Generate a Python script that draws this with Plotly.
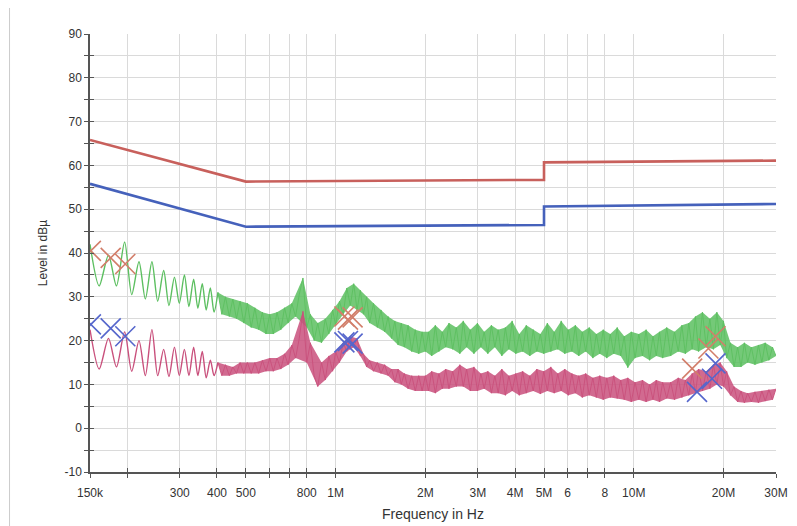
import math
import plotly.graph_objects as go

# ---------------- data ----------------
# scan frequencies in kHz (shared by both detectors)
FREQ_KHZ = [
    150, 161, 173, 184, 196, 207, 219, 230, 242, 253,
    265, 276, 288, 299, 311, 322, 334, 345, 357, 368,
    380, 391, 403, 415, 427, 440, 452, 465, 478, 492,
    506, 521, 536, 552, 568, 584, 601, 618, 636, 655,
    674, 693, 713, 734, 755, 777, 800, 823, 847, 871,
    897, 923, 949, 977, 1000, 1030, 1060, 1090, 1120, 1150,
    1180, 1210, 1240, 1270, 1300, 1340, 1380, 1420, 1460, 1500,
    1540, 1580, 1620, 1660, 1700, 1750, 1800, 1850, 1900, 1950,
    2000, 2050, 2100, 2160, 2220, 2280, 2340, 2400, 2470, 2540,
    2610, 2680, 2750, 2830, 2910, 2990, 3070, 3150, 3240, 3330,
    3420, 3510, 3610, 3710, 3810, 3910, 4020, 4130, 4240, 4360,
    4480, 4600, 4730, 4860, 4990, 5130, 5270, 5410, 5560, 5710,
    5870, 6030, 6200, 6370, 6540, 6720, 6900, 7090, 7290, 7490,
    7690, 7900, 8120, 8340, 8570, 8800, 9040, 9290, 9550, 9810,
    10100, 10400, 10700, 11000, 11300, 11600, 11900, 12200, 12500, 12900,
    13300, 13700, 14100, 14500, 14900, 15300, 15700, 16100, 16500, 17000,
    17500, 18000, 18500, 19000, 19500, 20000, 20500, 21100, 21700, 22300,
    22900, 23500, 24100, 24800, 25500, 26200, 26900, 27600, 28400, 29200,
    30000,
]

# peak detector scan (green), dBµV
PEAK_DB = [
    42.0, 32.5, 39.5, 32.5, 42.5, 30.5, 38.0, 29.5, 38.0, 29.0,
    36.0, 28.0, 34.5, 28.5, 35.0, 27.8, 34.0, 27.4, 33.0, 27.0,
    32.0, 26.5, 31.0, 26.0, 30.0, 25.5, 29.5, 25.0, 29.0, 24.0,
    28.5, 23.0, 27.5, 22.5, 26.5, 21.5, 26.0, 21.5, 26.5, 22.5,
    27.5, 24.0, 28.5, 25.5, 30.5, 34.3, 23.0, 26.0, 20.0, 24.0,
    19.5, 25.0, 21.5, 27.0, 23.5, 29.0, 26.0, 32.0, 28.0, 33.0,
    27.0, 31.5, 26.0, 30.0, 24.0, 28.5, 23.0, 27.0, 22.0, 25.5,
    20.5, 24.5, 19.0, 24.0, 18.5, 23.5, 17.5, 22.5, 17.0, 22.0,
    17.5, 22.0, 16.5, 23.5, 17.5, 22.0, 18.5, 24.0, 18.0, 23.0,
    17.0, 24.5, 18.5, 22.5, 17.0, 24.0, 18.5, 22.0, 17.0, 23.5,
    18.5, 22.5, 16.5, 23.0, 18.0, 24.5, 17.0, 21.5, 17.5, 23.5,
    16.5, 22.5, 17.5, 21.5, 17.0, 24.0, 17.5, 22.0, 18.0, 24.5,
    17.0, 22.5, 17.5, 23.5, 16.5, 22.0, 17.5, 23.0, 16.0, 21.5,
    17.0, 22.5, 16.0, 21.5, 17.0, 23.0, 16.5, 21.0, 13.8, 22.0,
    16.0, 21.5, 16.5, 22.5, 15.5, 21.0, 16.5, 22.0, 16.0, 23.0,
    16.5, 22.0, 17.5, 23.5, 17.0, 24.0, 18.0, 25.5, 17.5, 26.5,
    18.5, 25.0, 18.0, 26.5, 19.0, 24.5, 16.0, 19.5, 14.0, 18.5,
    14.0, 19.5, 15.0, 18.5, 14.5, 19.0, 15.0, 19.5, 15.5, 18.5,
    16.5,
]

# average detector scan (pink), dBµV
AVG_DB = [
    22.5, 13.5, 20.5, 14.0, 22.0, 13.0, 20.0, 12.0, 22.5, 12.0,
    18.0, 11.8, 18.5, 12.0, 18.0, 12.0, 18.5, 12.0, 17.5, 11.5,
    15.5, 12.0, 15.0, 12.0, 14.5, 12.0, 14.0, 12.5, 15.0, 12.5,
    15.0, 12.5, 15.0, 12.5, 15.5, 13.0, 16.0, 13.0, 16.0, 13.5,
    17.0, 14.5, 19.0, 16.0, 20.5, 26.7, 15.0, 19.5, 12.0, 9.5,
    15.0, 11.0, 16.5, 13.0, 17.5, 15.0, 19.5, 17.5, 21.0, 18.5,
    20.5, 16.5, 17.0, 14.0, 15.5, 13.0, 15.0, 12.5, 14.5, 12.0,
    13.5, 10.5, 13.5, 10.0, 12.5, 9.0, 12.0, 8.5, 12.0, 8.5,
    12.0, 8.5, 13.0, 8.0, 12.5, 9.0, 13.5, 9.0, 13.0, 9.5,
    14.5, 9.5, 13.5, 8.5, 14.0, 8.5, 12.5, 9.0, 13.0, 8.0,
    12.0, 8.0, 13.5, 7.5, 12.0, 8.5, 12.5, 7.5, 13.0, 8.0,
    12.0, 8.5, 13.5, 7.8, 13.0, 8.5, 14.0, 8.0, 12.5, 8.5,
    13.5, 7.5, 12.5, 8.0, 12.0, 7.0, 12.5, 7.5, 11.5, 7.0,
    12.0, 6.5, 11.5, 7.0, 12.0, 6.8, 11.0, 6.5, 11.5, 6.0,
    10.5, 6.5, 11.0, 6.0, 10.0, 6.5, 11.0, 6.0, 10.5, 6.8,
    10.5, 6.5, 11.5, 7.0, 11.0, 7.5, 12.5, 8.0, 13.5, 8.5,
    13.0, 9.0, 14.5, 10.0, 15.0, 9.5, 13.0, 7.5, 9.5, 6.0,
    8.5, 5.8, 8.0, 6.0, 8.3, 5.8, 8.5, 6.2, 8.8, 6.5,
    9.0,
]

# limit lines
LIMIT_FREQ = [150e3, 500e3, 5e6, 5e6, 30e6]
QP_LIMIT = [65.8, 56.3, 56.7, 60.7, 61.1]
AV_LIMIT = [55.8, 46.0, 46.4, 50.6, 51.2]

# final measurement markers
QP_MARK_FREQ = [151e3, 176e3, 197e3, 1.07e6, 1.10e6, 1.14e6, 15.7e6, 17.8e6, 18.8e6]
QP_MARK_DB = [40.5, 38.9, 37.5, 25.5, 24.8, 25.3, 13.6, 18.2, 21.0]
AV_MARK_FREQ = [151e3, 176e3, 197e3, 1.07e6, 1.10e6, 1.14e6, 16.3e6, 18.3e6, 18.8e6]
AV_MARK_DB = [23.7, 22.8, 21.0, 19.6, 19.9, 19.3, 8.3, 11.3, 14.8]

# axis ticks
X_TICKS = [150e3, 200e3, 300e3, 400e3, 500e3, 600e3, 700e3, 800e3, 1e6,
           2e6, 3e6, 4e6, 5e6, 6e6, 7e6, 8e6, 10e6, 20e6, 30e6]
X_TEXT = ["150k", "", "300", "400", "500", "", "", "800", "1M",
          "2M", "3M", "4M", "5M", "6", "", "8", "10M", "20M", "30M"]
Y_TICKS = [-10, -5, 0, 5, 10, 15, 20, 25, 30, 35, 40, 45, 50, 55, 60, 65, 70, 75, 80, 85, 90]
Y_TEXT = [str(v) if v % 10 == 0 else "" for v in Y_TICKS]

DENSE_START = 22  # from ~400 kHz the scan is a dense noise band

# ---------------- styling ----------------
FONT = "Liberation Sans, Arial, sans-serif"
GREEN = "#5cbf60"
GREEN_FILL = "rgba(92,191,96,0.85)"
PINK = "#c9507c"
PINK_FILL = "rgba(201,80,124,0.85)"
RED = "#c8605c"
BLUE = "#4561bb"
RED_X = "#d27e6a"
BLUE_X = "#5566cc"
GRID = "#dadada"
AXIS = "#555555"

freq_hz = [f * 1e3 for f in FREQ_KHZ]
xr = [math.log10(150e3), math.log10(30e6)]
yr = [-10, 90]


def band_polygon(xs, ys, start):
    """Polygon joining the local maxima and local minima of the noisy scan."""
    up_x, up_y, lo_x, lo_y = [], [], [], []
    n = len(ys)
    for i in range(start, n):
        prev_v = ys[i - 1] if i > start else ys[i]
        next_v = ys[i + 1] if i < n - 1 else ys[i]
        if ys[i] >= prev_v and ys[i] >= next_v:
            up_x.append(xs[i]); up_y.append(ys[i])
        if ys[i] <= prev_v and ys[i] <= next_v:
            lo_x.append(xs[i]); lo_y.append(ys[i])
    return up_x + lo_x[::-1], up_y + lo_y[::-1]


fig = go.Figure()
fig.add_trace(go.Scatter(x=LIMIT_FREQ, y=QP_LIMIT, mode="lines",
                         line=dict(color=RED, width=2.6), hoverinfo="skip"))
fig.add_trace(go.Scatter(x=LIMIT_FREQ, y=AV_LIMIT, mode="lines",
                         line=dict(color=BLUE, width=2.6), hoverinfo="skip"))

for values, color, fillcolor in ((PEAK_DB, GREEN, GREEN_FILL), (AVG_DB, PINK, PINK_FILL)):
    bx, by = band_polygon(freq_hz, values, DENSE_START)
    fig.add_trace(go.Scatter(x=bx, y=by, mode="lines", fill="toself",
                             fillcolor=fillcolor, line=dict(width=0), hoverinfo="skip"))
    # resolved harmonics at the low end
    fig.add_trace(go.Scatter(x=freq_hz[:DENSE_START + 1], y=values[:DENSE_START + 1],
                             mode="lines", line=dict(color=color, width=1.4, shape="spline",
                                                     smoothing=0.8)))
    # dense noise part
    fig.add_trace(go.Scatter(x=freq_hz[DENSE_START:], y=values[DENSE_START:],
                             mode="lines", line=dict(color=color, width=0.9)))

fig.add_trace(go.Scatter(x=QP_MARK_FREQ, y=QP_MARK_DB, mode="markers",
                         marker=dict(symbol="x-thin", size=20,
                                     line=dict(color=RED_X, width=1.6))))
fig.add_trace(go.Scatter(x=AV_MARK_FREQ, y=AV_MARK_DB, mode="markers",
                         marker=dict(symbol="x-thin", size=20,
                                     line=dict(color=BLUE_X, width=1.6))))
# empty trace that carries the overlay axes used for the inner half of the cross ticks
fig.add_trace(go.Scatter(x=[], y=[], xaxis="x2", yaxis="y2", showlegend=False))

tick_font = dict(family=FONT, size=12, color="#333333")

# the page body has an 8 px margin, so the figure is 8 px smaller than the window
fig.update_layout(
    width=789, height=518,
    margin=dict(l=82, r=21, t=26, b=54, autoexpand=False),
    paper_bgcolor="white", plot_bgcolor="white",
    showlegend=False,
    xaxis=dict(type="log", range=xr, tickvals=X_TICKS, ticktext=X_TEXT,
               ticks="outside", ticklen=4, tickwidth=1.2, tickcolor=AXIS,
               showline=True, linecolor=AXIS, linewidth=1.5,
               showgrid=True, gridcolor=GRID, gridwidth=1, automargin=False,
               zeroline=False, tickfont=tick_font, ticklabelstandoff=5,
               title=dict(text="Frequency in Hz",
                          font=dict(family=FONT, size=14, color="#333333"),
                          standoff=10)),
    yaxis=dict(range=yr, tickvals=Y_TICKS, ticktext=Y_TEXT,
               ticks="outside", ticklen=4, tickwidth=1.2, tickcolor=AXIS,
               showline=True, linecolor=AXIS, linewidth=1.5,
               showgrid=True, gridcolor=GRID, gridwidth=1, automargin=False,
               zeroline=False, tickfont=tick_font,
               title=dict(text="Level in dBµ",
                          font=dict(family=FONT, size=12, color="#333333"),
                          standoff=14)),
    xaxis2=dict(type="log", range=xr, tickvals=X_TICKS, overlaying="x",
                anchor="y2", side="bottom", ticks="inside", ticklen=4,
                tickwidth=1.2, tickcolor=AXIS, showticklabels=False,
                showgrid=False, showline=False, zeroline=False),
    yaxis2=dict(range=yr, tickvals=Y_TICKS, overlaying="y", anchor="x2",
                side="left", ticks="inside", ticklen=4, tickwidth=1.2,
                tickcolor=AXIS, showticklabels=False, showgrid=False,
                showline=False, zeroline=False),
    shapes=[dict(type="line", xref="paper", yref="paper",
                 x0=-0.1173, x1=-0.1173, y0=-0.13, y1=1.1,
                 line=dict(color="#cccccc", width=1))],
)

fig.write_html("out.html")
